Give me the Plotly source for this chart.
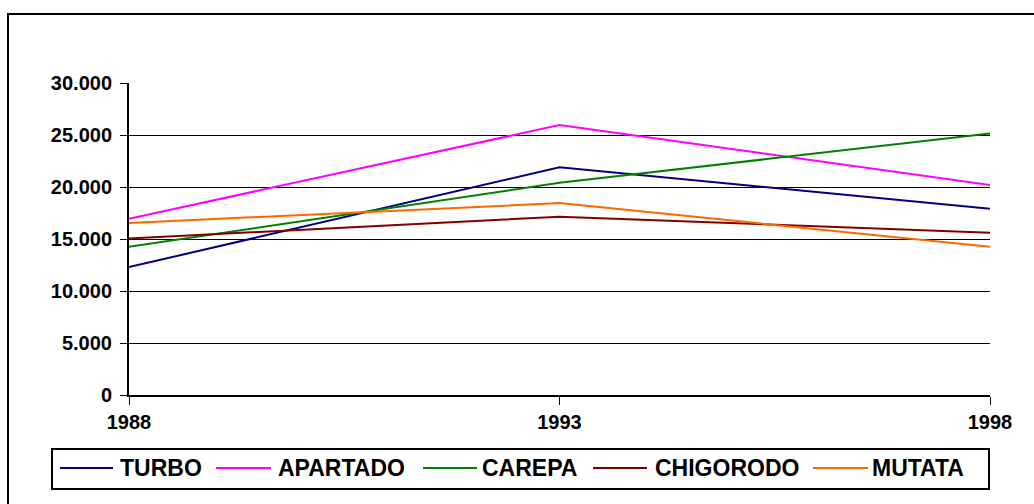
import plotly.graph_objects as go

years = [1988, 1993, 1998]
series_names = ["TURBO", "APARTADO", "CAREPA", "CHIGORODO", "MUTATA"]
turbo = [12300, 21900, 17900]
apartado = [16950, 25950, 20200]
carepa = [14250, 20400, 25150]
chigorodo = [15050, 17150, 15600]
mutata = [16550, 18450, 14250]
series_values = [turbo, apartado, carepa, chigorodo, mutata]
colors = ["#000080", "#FF00FF", "#008000", "#800000", "#FF6600"]
y_ticks = [0, 5000, 10000, 15000, 20000, 25000, 30000]

W, H = 1034, 504
L, R, T, B = 129, 990, 83, 395
FONT = "Liberation Sans, Arial, sans-serif"


def px2x(px):
    return (px - L) / (R - L)


def py2y(py):
    return (B - py) / (B - T)


fig = go.Figure()
for name, vals, col in zip(series_names, series_values, colors):
    fig.add_trace(go.Scatter(x=years, y=vals, mode="lines", name=name,
                             line=dict(color=col, width=2), showlegend=False))

shapes = []
annotations = []
# outer frame
shapes.append(dict(type="rect", xref="paper", yref="paper",
                   x0=px2x(8), x1=px2x(1100), y0=py2y(560), y1=py2y(14),
                   line=dict(color="black", width=2), fillcolor="rgba(0,0,0,0)", layer="below"))
# legend box
shapes.append(dict(type="rect", xref="paper", yref="paper",
                   x0=px2x(52), x1=px2x(989), y0=py2y(489), y1=py2y(449),
                   line=dict(color="black", width=2), fillcolor="rgba(0,0,0,0)"))
sample_x = [(60, 113), (216, 271), (423, 477), (593, 647), (813, 868)]
text_x = [118, 276, 480, 653, 870]
for (a, b), tx, name, col in zip(sample_x, text_x, series_names, colors):
    shapes.append(dict(type="line", xref="paper", yref="paper",
                       x0=px2x(a), x1=px2x(b), y0=py2y(468), y1=py2y(468),
                       line=dict(color=col, width=2)))
    annotations.append(dict(xref="paper", yref="paper", x=px2x(tx), y=py2y(468),
                            xanchor="left", yanchor="middle", showarrow=False,
                            text="<b>%s</b>" % name,
                            font=dict(family=FONT, size=23, color="black")))

fig.update_layout(
    width=W, height=H,
    margin=dict(l=L, r=W - R, t=T, b=H - B, pad=0),
    paper_bgcolor="white", plot_bgcolor="white",
    separators=",.",
    shapes=shapes, annotations=annotations,
    font=dict(family=FONT, color="black"),
    hovermode=False,
)
fig.update_xaxes(range=[1988, 1998], tickvals=years, ticktext=["<b>%d</b>" % y for y in years],
                 showgrid=False, zeroline=False, showline=True, linecolor="black", linewidth=2,
                 ticks="outside", ticklen=8, tickwidth=1, tickcolor="black",
                 tickfont=dict(family=FONT, size=20, color="black"))
fig.update_yaxes(range=[0, 30000], tickvals=y_ticks,
                 ticktext=["<b>%s</b>" % ("{:,}".format(v).replace(",", ".")) for v in y_ticks],
                 showgrid=True, gridcolor="black", gridwidth=1, zeroline=False,
                 showline=True, linecolor="black", linewidth=2,
                 ticks="outside", ticklen=7, tickwidth=1, tickcolor="black",
                 ticklabelstandoff=4,
                 tickfont=dict(family=FONT, size=20, color="black"))

fig.write_html("out.html", config={"displayModeBar": False},
               post_script="document.body.style.margin='0';")
